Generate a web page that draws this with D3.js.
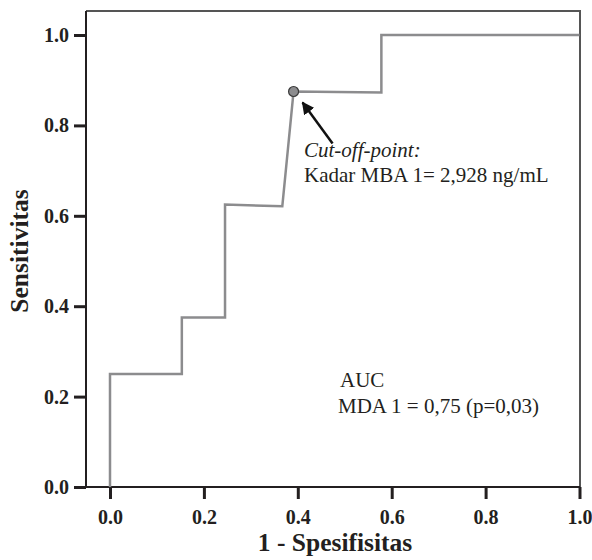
<!DOCTYPE html>
<html>
<head>
<meta charset="utf-8">
<script src="https://cdn.jsdelivr.net/npm/d3@7"></script>
<style>
  body { margin: 0; background: #fff; }
  svg text { font-family: "Liberation Serif", "Times New Roman", serif; fill: #231f20; }
</style>
</head>
<body>
<script>
// ROC curve values (1 - specificity, sensitivity)
var fpr = [0, 0, 0.153, 0.153, 0.245, 0.245, 0.367, 0.391, 0.578, 0.578, 1.0];
var tpr = [0, 0.25, 0.25, 0.375, 0.375, 0.625, 0.621, 0.875, 0.873, 1.0, 1.0];
var cutoff = [0.391, 0.875];
var xTicks = [0, 0.2, 0.4, 0.6, 0.8, 1.0];
var yTicks = [0, 0.2, 0.4, 0.6, 0.8, 1.0];

var width = 592,
    height = 560;

var svg = d3.select("body")
    .append("svg")
    .attr("width", width)
    .attr("height", height);

// frame edges
var frameL = 86, frameR = 580, frameT = 11, frameB = 487;

var x = d3.scaleLinear().domain([0, 1]).range([110, 579.5]);
var y = d3.scaleLinear().domain([0, 1]).range([487, 35]);

// top and right border
svg.append("path")
    .attr("d", "M" + frameL + "," + frameT + "H" + frameR + "V" + frameB)
    .attr("fill", "none")
    .attr("stroke", "#555")
    .attr("stroke-width", 2);

// x axis
var xAxis = svg.append("g")
    .attr("transform", "translate(0," + frameB + ")")
    .call(d3.axisBottom(x).tickValues(xTicks).tickFormat(d3.format(".1f"))
        .tickSize(12).tickSizeOuter(0).tickPadding(8));
xAxis.select(".domain").remove();
xAxis.append("line")
    .attr("x1", frameL).attr("x2", frameR)
    .attr("stroke", "#231f20").attr("stroke-width", 2);

// y axis
var yAxis = svg.append("g")
    .attr("transform", "translate(" + frameL + ",0)")
    .call(d3.axisLeft(y).tickValues(yTicks).tickFormat(d3.format(".1f"))
        .tickSize(12).tickSizeOuter(0).tickPadding(5));
yAxis.select(".domain").remove();
yAxis.append("line")
    .attr("y1", frameT).attr("y2", frameB)
    .attr("stroke", "#231f20").attr("stroke-width", 2);

svg.selectAll(".tick line")
    .attr("stroke", "#231f20")
    .attr("stroke-width", 3);
svg.selectAll(".tick text")
    .style("font-size", "20px")
    .style("font-weight", "bold")
    .attr("fill", "#231f20");
xAxis.selectAll(".tick text").attr("dy", "0.85em");

// axis titles
svg.append("text")
    .attr("x", 335)
    .attr("y", 551)
    .attr("text-anchor", "middle")
    .style("font-size", "25.5px")
    .style("font-weight", "bold")
    .text("1 - Spesifisitas");

svg.append("text")
    .attr("transform", "translate(28,251) rotate(-90)")
    .attr("text-anchor", "middle")
    .style("font-size", "25.5px")
    .style("font-weight", "bold")
    .text("Sensitivitas");

// ROC line
var rocData = fpr.map(function(d, i) { return [d, tpr[i]]; });
var line = d3.line()
    .x(function(d) { return x(d[0]); })
    .y(function(d) { return y(d[1]); });

svg.append("path")
    .datum(rocData)
    .attr("d", line)
    .attr("fill", "none")
    .attr("stroke", "#8c8c8e")
    .attr("stroke-width", 2.5);

// cut-off point
svg.append("circle")
    .attr("cx", x(cutoff[0]))
    .attr("cy", y(cutoff[1]))
    .attr("r", 5)
    .attr("fill", "#8c8c8e")
    .attr("stroke", "#3a3a3a")
    .attr("stroke-width", 1.2);

// arrow
svg.append("defs").append("marker")
    .attr("id", "head")
    .attr("viewBox", "0 0 10 10")
    .attr("refX", 9)
    .attr("refY", 5)
    .attr("markerWidth", 5)
    .attr("markerHeight", 5)
    .attr("orient", "auto")
    .append("path")
    .attr("d", "M0,0L10,5L0,10z")
    .attr("fill", "#111");

svg.append("line")
    .attr("x1", x(cutoff[0]) + 39)
    .attr("y1", y(cutoff[1]) + 52)
    .attr("x2", x(cutoff[0]) + 9)
    .attr("y2", y(cutoff[1]) + 11)
    .attr("stroke", "#111")
    .attr("stroke-width", 2.5)
    .attr("marker-end", "url(#head)");

// annotations
svg.append("text")
    .attr("x", 304)
    .attr("y", 157)
    .style("font-size", "21px")
    .style("font-style", "italic")
    .text("Cut-off-point:");

svg.append("text")
    .attr("x", 304)
    .attr("y", 182)
    .style("font-size", "21px")
    .text("Kadar MBA 1= 2,928 ng/mL");

svg.append("text")
    .attr("x", 340)
    .attr("y", 387)
    .style("font-size", "21px")
    .text("AUC");

svg.append("text")
    .attr("x", 338)
    .attr("y", 413)
    .style("font-size", "21px")
    .text("MDA 1 = 0,75 (p=0,03)");
</script>
</body>
</html>
